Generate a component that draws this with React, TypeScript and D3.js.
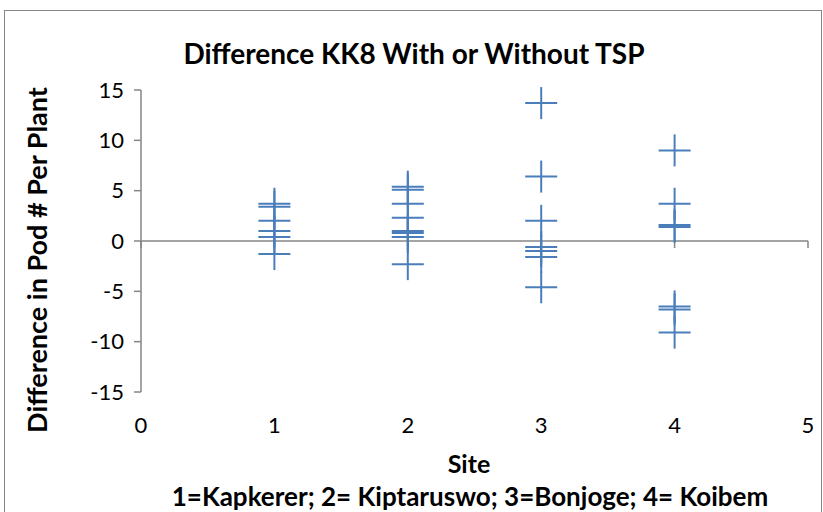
import React, { useEffect, useRef } from "react";
import * as d3 from "d3";

// Pod-count differences (with minus without TSP) per plant, grouped by site
const sites = [1, 2, 3, 4];
const site1Values = [3.7, 3.4, 2.0, 1.0, 0.4, -1.3];
const site2Values = [5.4, 5.1, 3.7, 2.3, 1.0, 0.8, 0.4, -2.3];
const site3Values = [13.7, 6.4, 2.0, -0.6, -1.0, -1.6, -4.6];
const site4Values = [9.0, 3.7, 1.6, 1.4, -6.5, -6.8, -9.1];
const siteValues = [site1Values, site2Values, site3Values, site4Values];

const xTicks = [0, 1, 2, 3, 4, 5];
const yTicks = [-15, -10, -5, 0, 5, 10, 15];

const title = "Difference KK8 With or Without TSP";
const xTitle = "Site";
const xSubtitle = "1=Kapkerer; 2= Kiptaruswo; 3=Bonjoge; 4= Koibem";
const yTitle = "Difference in Pod # Per Plant";

const W = 823;
const H = 512;
const FONT = "Lato, 'Open Sans', sans-serif";

export default function App() {
  const ref = useRef<SVGSVGElement | null>(null);

  useEffect(() => {
    const svg = d3.select(ref.current);
    svg.selectAll("*").remove();

    const x = d3.scaleLinear().domain([0, 5]).range([141, 808]);
    const y = d3.scaleLinear().domain([-15, 15]).range([392, 90]);
    const axisColor = "#868686";
    const markColor = "#4A7EBB";

    // chart frame
    svg
      .append("rect")
      .attr("x", 4.5)
      .attr("y", 10.5)
      .attr("width", 817)
      .attr("height", 520)
      .attr("fill", "white")
      .attr("stroke", axisColor)
      .attr("stroke-width", 1);

    // title
    svg
      .append("text")
      .attr("x", 414)
      .attr("y", 64)
      .attr("text-anchor", "middle")
      .attr("font-family", FONT)
      .attr("font-weight", "bold")
      .attr("font-size", 28)
      .text(title);

    // y axis
    const yAxis = svg.append("g");
    yAxis
      .append("line")
      .attr("x1", x(0))
      .attr("x2", x(0))
      .attr("y1", y(15))
      .attr("y2", y(-15))
      .attr("stroke", axisColor)
      .attr("stroke-width", 1.5);
    yAxis
      .selectAll("line.tick")
      .data(yTicks)
      .join("line")
      .attr("class", "tick")
      .attr("x1", x(0) - 7)
      .attr("x2", x(0))
      .attr("y1", (d) => y(d))
      .attr("y2", (d) => y(d))
      .attr("stroke", axisColor)
      .attr("stroke-width", 1.5);
    yAxis
      .selectAll("text")
      .data(yTicks)
      .join("text")
      .attr("x", 124)
      .attr("y", (d) => y(d))
      .attr("dy", "0.35em")
      .attr("text-anchor", "end")
      .attr("font-family", FONT)
      .attr("font-size", 22)
      .text((d) => String(d));

    // x axis along zero
    const xAxis = svg.append("g");
    xAxis
      .append("line")
      .attr("x1", x(0))
      .attr("x2", x(5))
      .attr("y1", y(0))
      .attr("y2", y(0))
      .attr("stroke", axisColor)
      .attr("stroke-width", 1.5);
    xAxis
      .selectAll("line.tick")
      .data(xTicks)
      .join("line")
      .attr("class", "tick")
      .attr("x1", (d) => x(d))
      .attr("x2", (d) => x(d))
      .attr("y1", y(0))
      .attr("y2", y(0) + 7)
      .attr("stroke", axisColor)
      .attr("stroke-width", 1.5);
    xAxis
      .selectAll("text")
      .data(xTicks)
      .join("text")
      .attr("x", (d) => x(d))
      .attr("y", 433)
      .attr("text-anchor", "middle")
      .attr("font-family", FONT)
      .attr("font-size", 22)
      .text((d) => String(d));

    // axis titles
    svg
      .append("text")
      .attr("x", 469)
      .attr("y", 473)
      .attr("text-anchor", "middle")
      .attr("font-family", FONT)
      .attr("font-weight", "bold")
      .attr("font-size", 25)
      .text(xTitle);
    svg
      .append("text")
      .attr("x", 470)
      .attr("y", 506)
      .attr("text-anchor", "middle")
      .attr("font-family", FONT)
      .attr("font-weight", "bold")
      .attr("font-size", 26)
      .text(xSubtitle);
    svg
      .append("text")
      .attr("transform", `translate(47,${260}) rotate(-90)`)
      .attr("text-anchor", "middle")
      .attr("font-family", FONT)
      .attr("font-weight", "bold")
      .attr("font-size", 27)
      .text(yTitle);

    // plus markers
    const points = sites.flatMap((s, i) => siteValues[i].map((v) => ({ s, v })));
    const half = 16;
    const marks = svg
      .append("g")
      .selectAll("g")
      .data(points)
      .join("g")
      .attr("transform", (d) => `translate(${x(d.s)},${y(d.v)})`);
    marks
      .append("line")
      .attr("x1", -half)
      .attr("x2", half)
      .attr("stroke", markColor)
      .attr("stroke-width", 2);
    marks
      .append("line")
      .attr("y1", -half)
      .attr("y2", half)
      .attr("stroke", markColor)
      .attr("stroke-width", 2);
  }, []);

  return (
    <div style={{ position: "absolute", left: 0, top: 0 }}>
      <svg ref={ref} width={W} height={H} style={{ display: "block", background: "white" }} />
    </div>
  );
}
